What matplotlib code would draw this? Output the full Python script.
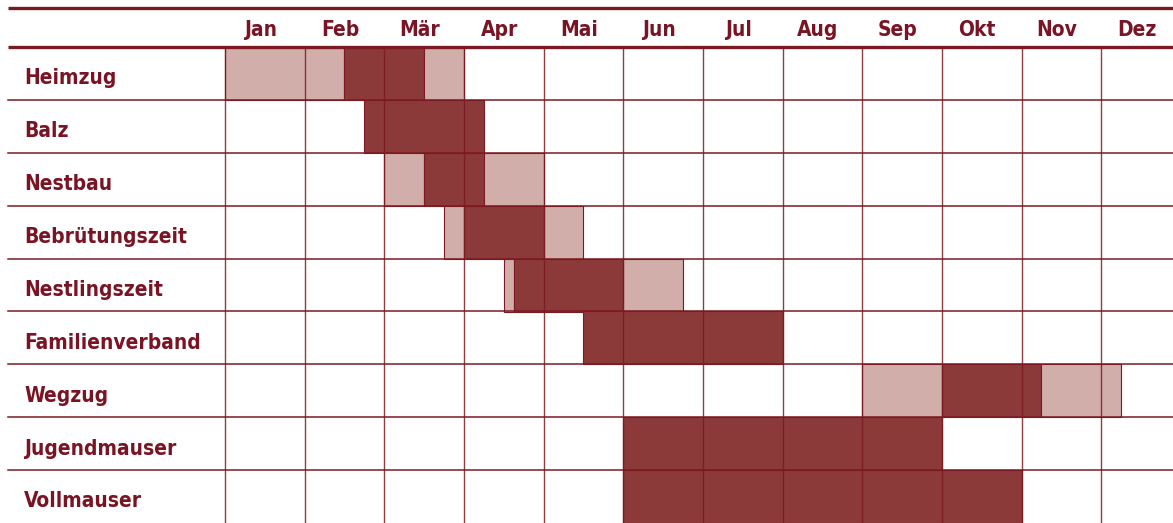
import matplotlib.pyplot as plt
from matplotlib import font_manager

MONTHS = ["Jan", "Feb", "Mär", "Apr", "Mai", "Jun", "Jul", "Aug", "Sep", "Okt", "Nov", "Dez"]
PHASES = ["Heimzug", "Balz", "Nestbau", "Bebrütungszeit", "Nestlingszeit",
          "Familienverband", "Wegzug", "Jugendmauser", "Vollmauser"]

# segments in months from 1 Jan; kind "L" = occasional, "D" = main period
SEG_ROW = [0, 0, 0,
           1,
           2, 2, 2,
           3, 3, 3,
           4, 4, 4,
           5,
           6, 6, 6,
           7,
           8]
SEG_START = [0.0, 1.5, 2.5,
             1.75,
             2.0, 2.5, 3.25,
             2.75, 3.0, 4.0,
             3.5, 3.625, 5.0,
             4.5,
             8.0, 9.0, 10.25,
             5.0,
             5.0]
SEG_END = [1.5, 2.5, 3.0,
           3.25,
           2.5, 3.25, 4.0,
           3.0, 4.0, 4.5,
           3.625, 5.0, 5.75,
           7.0,
           9.0, 10.25, 11.25,
           9.0,
           10.0]
SEG_KIND = ["L", "D", "L",
            "D",
            "L", "D", "L",
            "L", "D", "L",
            "L", "D", "L",
            "D",
            "L", "D", "L",
            "D",
            "D"]

DARK = "#8c3939"
LIGHT = "#d1aea9"
LINE = "#7b1a22"
TEXT = "#7a1424"

# narrow bold face for the labels
names = {f.name for f in font_manager.fontManager.ttflist}
cond = [f for f in font_manager.fontManager.ttflist
        if f.name == "DejaVu Sans" and f.stretch == "condensed" and f.weight == 700]
if "Liberation Sans Narrow" in names:
    FONTKW = dict(family="Liberation Sans Narrow", fontweight="bold")
elif cond:
    FONTKW = dict(family="DejaVu Sans", fontweight="bold", fontstretch="condensed")
else:
    FONTKW = dict(family="DejaVu Sans", fontweight="bold")

W, H = 1173, 523
MW = 79.65          # px per month
X0 = 225            # px of 1 Jan
HDR = 47            # px of header rule
RH = 52.9           # px per row


def px_x(p):
    return (p - X0) / MW


def px_y(p):
    return (p - HDR) / RH


fig = plt.figure(figsize=(W / 100, H / 100), dpi=100)
ax = fig.add_axes([0, 0, 1, 1])
ax.set_xlim(px_x(0), px_x(W))
ax.set_ylim(px_y(H), px_y(0))
ax.axis("off")

colors = {"D": DARK, "L": LIGHT}
for r, s, e, k in zip(SEG_ROW, SEG_START, SEG_END, SEG_KIND):
    ax.barh(r + 0.5, e - s, left=s, height=1.0, color=colors[k],
            edgecolor=LINE, linewidth=0.8, zorder=2)

# month grid and header labels
for m in range(len(MONTHS)):
    ax.plot([m, m], [0, len(PHASES) + 0.2], color=LINE, lw=1.0, alpha=0.85, zorder=3)
    ax.text(m + 0.5 - 0.055, px_y(36), MONTHS[m], ha="center", va="baseline",
            fontsize=15, color=TEXT, **FONTKW)

# row rules
left = px_x(8)
right = px_x(W)
ax.plot([left, right], [px_y(8.5)] * 2, color=LINE, lw=2.4, solid_capstyle="butt", zorder=4)
ax.plot([left, right], [0, 0], color=LINE, lw=2.4, solid_capstyle="butt", zorder=4)
for i in range(1, len(PHASES)):
    ax.plot([left, right], [i, i], color=LINE, lw=1.1, zorder=4)

for i, name in enumerate(PHASES):
    ax.text(px_x(24), i + 0.705, name, ha="left", va="baseline",
            fontsize=15, color=TEXT, **FONTKW)

fig.savefig("out.png", dpi=100, facecolor="white")
